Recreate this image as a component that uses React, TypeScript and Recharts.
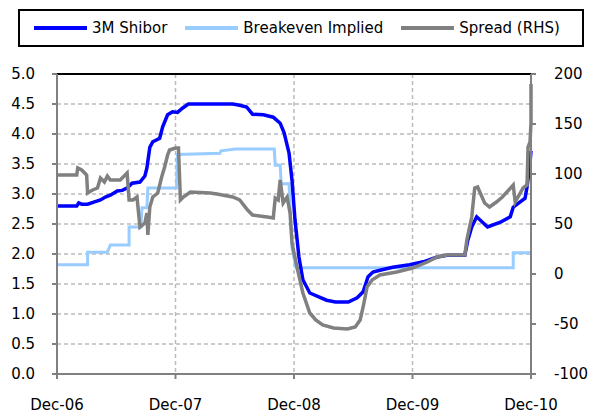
import React from 'react';
import { LineChart, Line, XAxis, YAxis, CartesianGrid, Legend, ReferenceLine } from 'recharts';

// x positions are months since Dec-06
const xTicks = [0, 12, 24, 36, 48];
const xLabels = ['Dec-06', 'Dec-07', 'Dec-08', 'Dec-09', 'Dec-10'];
const leftTicks = [0, 0.5, 1, 1.5, 2, 2.5, 3, 3.5, 4, 4.5, 5];
const rightTicks = [-100, -50, 0, 50, 100, 150, 200];

const shiborMonths = [0, 2.0, 2.2, 2.5, 3.1, 3.8, 4.4, 4.9, 5.4, 6.1, 6.6, 7.1, 7.6, 8.4, 8.9, 9.1, 9.4, 9.7, 10.4, 10.7, 11.2, 11.7, 12.2, 12.7, 13.3, 17.8, 18.5, 19.2, 19.8, 20.9, 21.9, 22.6, 23.0, 23.5, 23.8, 24.1, 24.5, 24.9, 25.6, 27.3, 28.2, 29.5, 30.4, 31.0, 31.5, 32.0, 32.7, 34.0, 35.7, 37.1, 38.5, 39.5, 41.3, 41.6, 42.0, 42.5, 43.6, 44.9, 45.9, 46.2, 47.4, 47.6, 47.9, 48.0];
const shiborValues = [2.80, 2.80, 2.85, 2.83, 2.83, 2.87, 2.90, 2.95, 2.98, 3.05, 3.06, 3.10, 3.18, 3.20, 3.30, 3.43, 3.78, 3.87, 3.93, 4.12, 4.32, 4.37, 4.36, 4.43, 4.50, 4.50, 4.48, 4.45, 4.33, 4.32, 4.28, 4.18, 4.02, 3.68, 3.23, 2.57, 1.95, 1.57, 1.35, 1.23, 1.20, 1.20, 1.27, 1.37, 1.62, 1.70, 1.73, 1.78, 1.82, 1.87, 1.95, 1.98, 1.98, 2.23, 2.45, 2.62, 2.45, 2.53, 2.62, 2.78, 2.93, 3.12, 3.52, 3.72];

const breakevenMonths = [0, 3.1, 3.1, 5.1, 5.4, 7.3, 7.3, 8.5, 8.6, 9.1, 9.2, 12.1, 12.2, 16.5, 16.6, 18.1, 22.0, 22.1, 22.6, 22.7, 23.5, 23.8, 24.2, 46.2, 46.2, 48.0];
const breakevenValues = [1.82, 1.82, 2.03, 2.03, 2.15, 2.15, 2.45, 2.45, 2.77, 2.77, 3.10, 3.10, 3.66, 3.68, 3.72, 3.75, 3.75, 3.48, 3.48, 3.17, 3.17, 2.10, 1.77, 1.77, 2.02, 2.02];

const spreadMonths = [0, 2.0, 2.1, 2.5, 3.0, 3.1, 3.6, 4.1, 4.4, 4.8, 5.1, 5.4, 6.4, 6.8, 7.1, 7.3, 7.7, 8.1, 8.4, 8.9, 9.1, 9.2, 9.4, 9.7, 10.2, 10.6, 10.9, 11.2, 11.4, 12.0, 12.3, 12.5, 12.8, 13.5, 15.5, 16.2, 17.8, 18.5, 19.3, 19.8, 21.3, 21.9, 22.1, 22.4, 22.6, 22.9, 23.3, 23.6, 23.8, 24.3, 24.9, 25.6, 26.2, 26.9, 28.0, 29.4, 30.2, 30.7, 31.0, 31.4, 31.9, 32.7, 34.4, 36.0, 37.5, 38.5, 39.5, 41.3, 41.5, 42.0, 42.3, 42.6, 43.3, 43.8, 44.5, 45.1, 46.2, 46.4, 47.2, 47.6, 47.7, 47.9, 48.0, 48.0];
const spreadValues = [99, 99, 106, 104, 99, 81, 84, 86, 96, 92, 98, 94, 94, 98, 101, 74, 74, 77, 47, 51, 61, 39, 67, 77, 81, 97, 107, 119, 124, 126, 126, 74, 77, 82, 81, 80, 77, 74, 64, 59, 57, 56, 76, 74, 94, 71, 77, 61, 31, 7, -19, -39, -46, -51, -54, -55, -53, -46, -33, -13, -6, -1, 2, 6, 12, 17, 19, 19, 34, 57, 86, 87, 71, 67, 72, 77, 89, 72, 86, 89, 127, 132, 151, 190];

const toPoints = (months: number[], values: number[]) =>
  months.map((m, i) => ({ m, v: values[i] }));

const shibor = toPoints(shiborMonths, shiborValues);
const breakeven = toPoints(breakevenMonths, breakevenValues);
const spread = toPoints(spreadMonths, spreadValues);

const FONT = '"DejaVu Sans", Verdana, sans-serif';
const AXIS = '#808080';

const legendItems = [
  { name: '3M Shibor', color: '#0000FF' },
  { name: 'Breakeven Implied', color: '#99CCFF' },
  { name: 'Spread (RHS)', color: '#808080' },
];

const LegendBox = () => (
  <div
    style={{
      boxSizing: 'border-box',
      width: 566,
      height: 38,
      border: '2px solid #000',
      background: '#fff',
      display: 'flex',
      alignItems: 'center',
      paddingLeft: 14,
      fontFamily: FONT,
      fontSize: 15,
      color: '#000',
    }}
  >
    {legendItems.map(item => (
      <div key={item.name} style={{ display: 'flex', alignItems: 'center', marginRight: 18 }}>
        <span style={{ display: 'inline-block', width: 53, height: 4, background: item.color, marginRight: 5 }} />
        <span>{item.name}</span>
      </div>
    ))}
  </div>
);

const App: React.FC = () => {
  const tick = { fill: '#000', fontSize: 15, fontFamily: FONT };
  return (
    <div style={{ position: 'absolute', left: 0, top: 0, width: 591, height: 415, background: '#fff' }}>
      <LineChart width={591} height={415} margin={{ top: 74, right: 8, bottom: 8, left: 8 }}>
        <CartesianGrid yAxisId="left" stroke="#BBBBBB" strokeDasharray="4 3" strokeWidth={1.5} />
        <XAxis
          dataKey="m"
          type="number"
          domain={[0, 48]}
          ticks={xTicks}
          interval={0}
          tickFormatter={(v: number) => xLabels[xTicks.indexOf(v)]}
          axisLine={{ stroke: AXIS, strokeWidth: 2 }}
          tickLine={{ stroke: AXIS, strokeWidth: 2 }}
          tickSize={5}
          tickMargin={20}
          tick={tick}
          height={33}
        />
        <YAxis
          yAxisId="left"
          domain={[0, 5]}
          ticks={leftTicks}
          interval={0}
          tickFormatter={(v: number) => v.toFixed(1)}
          axisLine={{ stroke: AXIS, strokeWidth: 2 }}
          tickLine={{ stroke: AXIS, strokeWidth: 2 }}
          tickSize={5}
          tickMargin={17}
          tick={tick}
          width={49}
        />
        <YAxis
          yAxisId="right"
          orientation="right"
          domain={[-100, 200]}
          ticks={rightTicks}
          interval={0}
          axisLine={{ stroke: AXIS, strokeWidth: 2 }}
          tickLine={{ stroke: AXIS, strokeWidth: 2 }}
          tickSize={5}
          tickMargin={18}
          tick={tick}
          width={52}
        />
        <ReferenceLine yAxisId="left" y={5} stroke="#000" strokeWidth={2} />
        <Legend
          verticalAlign="middle"
          align="center"
          layout="horizontal"
          wrapperStyle={{ top: 9, left: 18, width: 566, height: 38 }}
          content={() => <LegendBox />}
        />
        <Line yAxisId="left" data={breakeven} dataKey="v" name="Breakeven Implied" stroke="#99CCFF" strokeWidth={3} dot={false} type="linear" isAnimationActive={false} />
        <Line yAxisId="left" data={shibor} dataKey="v" name="3M Shibor" stroke="#0000FF" strokeWidth={3.5} dot={false} type="linear" isAnimationActive={false} />
        <Line yAxisId="right" data={spread} dataKey="v" name="Spread (RHS)" stroke="#808080" strokeWidth={3.5} dot={false} type="linear" isAnimationActive={false} />
      </LineChart>
    </div>
  );
};

export default App;
